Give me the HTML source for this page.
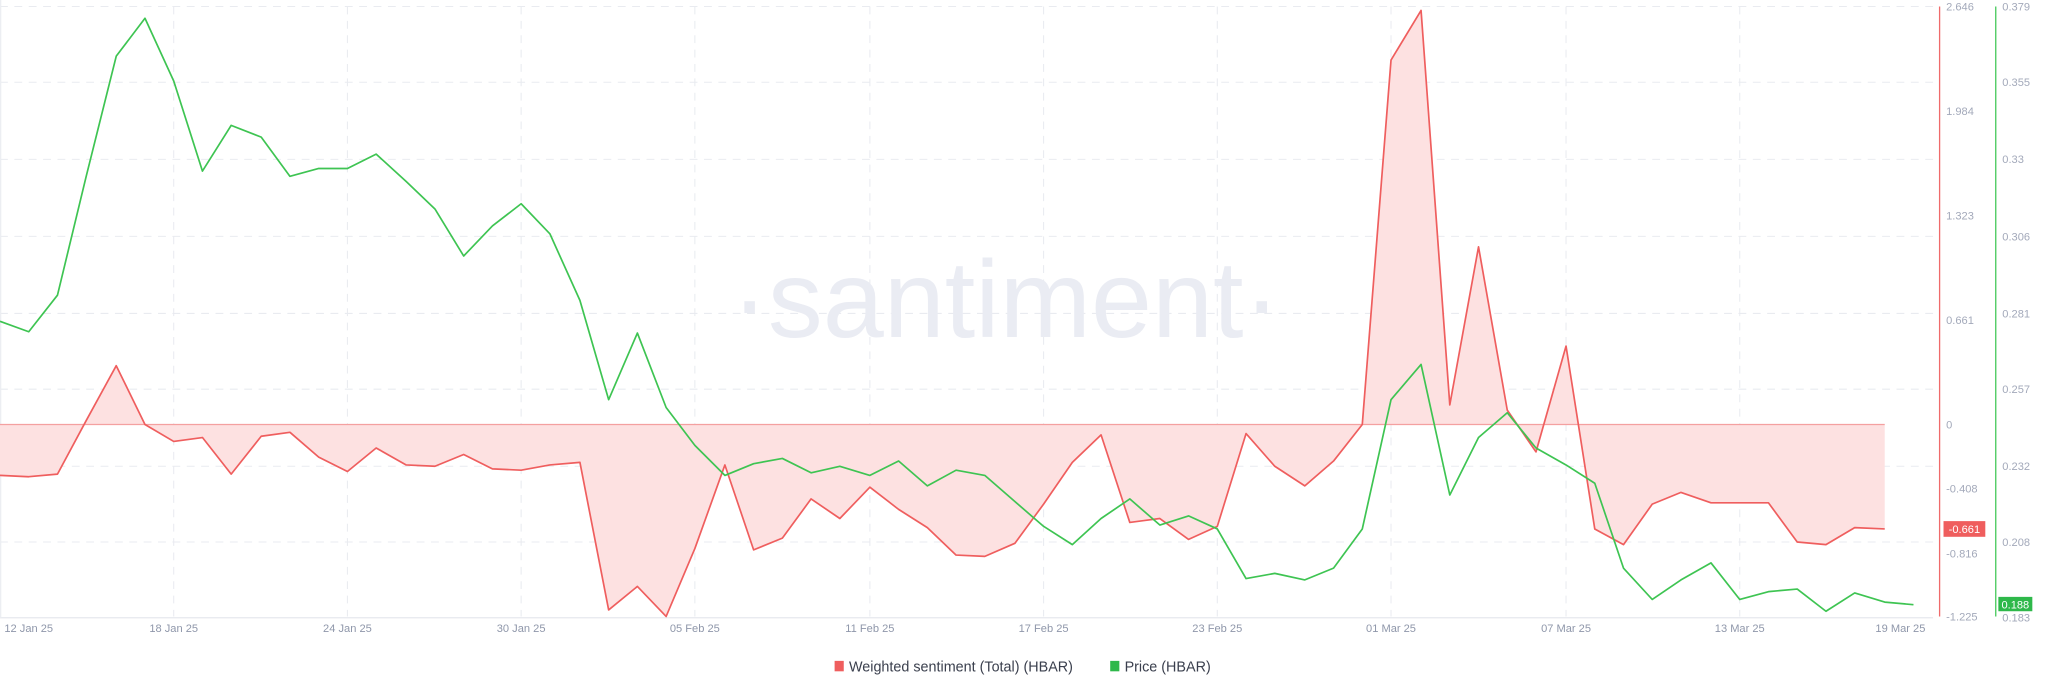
<!DOCTYPE html>
<html><head><meta charset="utf-8"><style>
html,body{margin:0;padding:0;background:#fff;}
svg{display:block;}
text{font-family:"Liberation Sans",sans-serif;}
</style></head><body>
<svg width="2048" height="693" viewBox="0 0 1568 530.6" preserveAspectRatio="none">
<g stroke="#e9ebf0" stroke-width="0.8" stroke-dasharray="6,5" fill="none">
<line x1="0" y1="5" x2="1480" y2="5"/><line x1="0" y1="63" x2="1480" y2="63"/>
<line x1="0" y1="122" x2="1480" y2="122"/><line x1="0" y1="181" x2="1480" y2="181"/>
<line x1="0" y1="240" x2="1480" y2="240"/><line x1="0" y1="298" x2="1480" y2="298"/>
<line x1="0" y1="357" x2="1480" y2="357"/><line x1="0" y1="415" x2="1480" y2="415"/>
<line x1="133" y1="5" x2="133" y2="472"/><line x1="266" y1="5" x2="266" y2="472"/>
<line x1="399" y1="5" x2="399" y2="472"/><line x1="532" y1="5" x2="532" y2="472"/>
<line x1="666" y1="5" x2="666" y2="472"/><line x1="799" y1="5" x2="799" y2="472"/>
<line x1="932" y1="5" x2="932" y2="472"/><line x1="1065" y1="5" x2="1065" y2="472"/>
<line x1="1199" y1="5" x2="1199" y2="472"/><line x1="1332" y1="5" x2="1332" y2="472"/>
</g>
<line x1="0" y1="473" x2="1480" y2="473" stroke="#e6e8ee" stroke-width="1"/>
<line x1="0.5" y1="0" x2="0.5" y2="473" stroke="#eceef2" stroke-width="1"/>
<text x="770" y="258" text-anchor="middle" font-size="84" fill="#eaecf3">·santiment·</text>
<polygon fill="#fde1e1" points="0,325 0,364 22,365 44,363 66,322 89,280 111,325 133,338 155,335 177,363 200,334 222,331 244,350 266,361 288,343 311,356 333,357 355,348 377,359 399,360 421,356 444,354 466,467 488,449 510,472 532,420 555,356 577,421 599,412 621,382 643,397 666,373 688,390 710,404 732,425 754,426 777,416 799,386 821,354 843,333 865,400 888,397 910,413 932,403 954,332 976,357 999,372 1021,353 1043,325 1065,46 1088,8 1110,310 1132,189 1154,314 1176,346 1199,265 1221,405 1243,417 1265,386 1287,377 1310,385 1332,385 1354,385 1376,415 1398,417 1420,404 1443,405 1443,325"/>
<line x1="0" y1="325" x2="1443" y2="325" stroke="#f4a0a0" stroke-width="1"/>
<polyline fill="none" stroke="#ef5e5e" stroke-width="1.3" stroke-linejoin="round" points="0,364 22,365 44,363 66,322 89,280 111,325 133,338 155,335 177,363 200,334 222,331 244,350 266,361 288,343 311,356 333,357 355,348 377,359 399,360 421,356 444,354 466,467 488,449 510,472 532,420 555,356 577,421 599,412 621,382 643,397 666,373 688,390 710,404 732,425 754,426 777,416 799,386 821,354 843,333 865,400 888,397 910,413 932,403 954,332 976,357 999,372 1021,353 1043,325 1065,46 1088,8 1110,310 1132,189 1154,314 1176,346 1199,265 1221,405 1243,417 1265,386 1287,377 1310,385 1332,385 1354,385 1376,415 1398,417 1420,404 1443,405"/>
<polyline fill="none" stroke="#3ec452" stroke-width="1.3" stroke-linejoin="round" points="0,246 22,254 44,226 66,135 89,43 111,14 133,62 155,131 177,96 200,105 222,135 244,129 266,129 288,118 311,139 333,160 355,196 377,173 399,156 421,179 444,230 466,306 488,255 510,312 532,341 555,364 577,355 599,351 621,362 643,357 666,364 688,353 710,372 732,360 754,364 777,384 799,403 821,417 843,397 865,382 888,402 910,395 932,405 954,443 976,439 999,444 1021,435 1043,405 1065,306 1088,279 1110,379 1132,335 1154,316 1176,343 1199,356 1221,370 1243,435 1265,459 1287,444 1310,431 1332,459 1354,453 1376,451 1398,468 1420,454 1443,461 1465,463"/>
<line x1="1485" y1="5" x2="1485" y2="472" stroke="#ef6b6b" stroke-width="1"/>
<line x1="1528" y1="5" x2="1528" y2="472" stroke="#45c95a" stroke-width="1"/>
<g font-size="8.5" fill="#a3a9ba">
<text x="1490" y="8">2.646</text><text x="1490" y="88">1.984</text><text x="1490" y="168">1.323</text>
<text x="1490" y="248">0.661</text><text x="1490" y="328">0</text><text x="1490" y="377">-0.408</text>
<text x="1490" y="427">-0.816</text><text x="1490" y="475">-1.225</text>
<text x="1533" y="8">0.379</text><text x="1533" y="66">0.355</text><text x="1533" y="125">0.33</text>
<text x="1533" y="184">0.306</text><text x="1533" y="243">0.281</text><text x="1533" y="301">0.257</text>
<text x="1533" y="360">0.232</text><text x="1533" y="418">0.208</text><text x="1533" y="476">0.183</text>
</g>
<rect x="1488" y="399" width="32" height="12" fill="#ef5e5e"/>
<text x="1504" y="408" font-size="8.5" fill="#fff" text-anchor="middle">-0.661</text>
<rect x="1530" y="457" width="26" height="11" fill="#2eb84a"/>
<text x="1543" y="466" font-size="8.5" fill="#fff" text-anchor="middle">0.188</text>
<g font-size="8.5" fill="#8f97aa" text-anchor="middle">
<text x="22" y="484">12 Jan 25</text><text x="133" y="484">18 Jan 25</text><text x="266" y="484">24 Jan 25</text>
<text x="399" y="484">30 Jan 25</text><text x="532" y="484">05 Feb 25</text><text x="666" y="484">11 Feb 25</text>
<text x="799" y="484">17 Feb 25</text><text x="932" y="484">23 Feb 25</text><text x="1065" y="484">01 Mar 25</text>
<text x="1199" y="484">07 Mar 25</text><text x="1332" y="484">13 Mar 25</text><text x="1455" y="484">19 Mar 25</text>
</g>
<rect x="639" y="506" width="7" height="8" fill="#ef5e5e"/>
<text x="650" y="514" font-size="11" fill="#3a3f4d">Weighted sentiment (Total) (HBAR)</text>
<rect x="850" y="506" width="7" height="8" fill="#2eb84a"/>
<text x="861" y="514" font-size="11" fill="#3a3f4d">Price (HBAR)</text>
</svg>
</body></html>
